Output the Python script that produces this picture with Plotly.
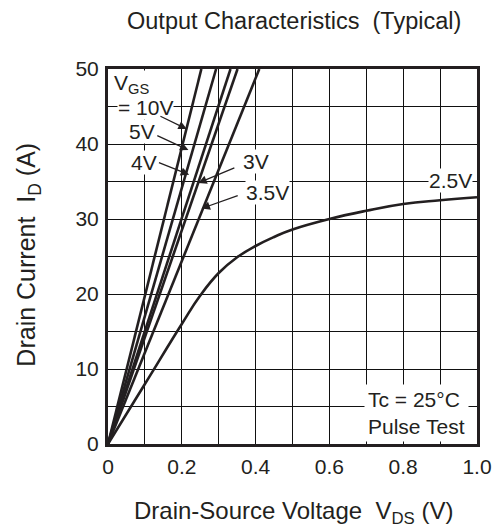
import plotly.graph_objects as go

# ---- data ----
# straight VGS curves: (0,0) -> (VDS at ID=50 A, 50)
vgs_names = ["10V", "5V", "4V", "3V", "3.5V"]
vds_at_50 = [0.253, 0.293, 0.332, 0.351, 0.41]
id_top = 50

# VGS = 2.5 V curve
vds_25 = [0, 0.1, 0.2, 0.25, 0.3, 0.35, 0.4, 0.45, 0.5, 0.6, 0.7, 0.8, 0.9, 1.0]
id_25 = [0, 8.0, 16.0, 19.8, 22.8, 24.9, 26.4, 27.6, 28.6, 30.0, 31.1, 32.0, 32.5, 32.9]

x_tickvals = [0, 0.1, 0.2, 0.3, 0.4, 0.5, 0.6, 0.7, 0.8, 0.9, 1.0]
x_ticktext = ["0", "", "0.2", "", "0.4", "", "0.6", "", "0.8", "", "1.0"]
y_tickvals = [0, 5, 10, 15, 20, 25, 30, 35, 40, 45, 50]
y_ticktext = ["0", "", "10", "", "20", "", "30", "", "40", "", "50"]

FONT = "Liberation Sans, Arial, Helvetica, sans-serif"
TXT = "#231f20"
LBL = 21
TTL = 24

fig = go.Figure()
for name, xe in zip(vgs_names, vds_at_50):
    fig.add_trace(go.Scatter(x=[0, xe], y=[0, id_top], mode="lines", name=name,
                             line=dict(color=TXT, width=2.6), showlegend=False))
fig.add_trace(go.Scatter(x=vds_25, y=id_25, mode="lines", name="2.5V",
                         line=dict(color=TXT, width=2.6, shape="spline", smoothing=1.3),
                         showlegend=False))

# labels (text, x, y)
labels = [
    ("V<sub>GS</sub>", 0.013, 48.0),
    ("= 10V", 0.024, 44.9),
    ("5V", 0.053, 41.7),
    ("4V", 0.059, 37.6),
    ("3V", 0.364, 37.7),
    ("3.5V", 0.37, 33.6),
    ("2.5V", 0.866, 35.1),
]
for t, x, y in labels:
    fig.add_annotation(x=x, y=y, text=t, showarrow=False, xanchor="left", yanchor="middle",
                       bgcolor="white", borderpad=0,
                       font=dict(family=FONT, size=LBL, color=TXT))

# arrows: (tail x, tail y, head x, head y)
arrows = [
    (0.138, 43.8, 0.2136, 42.0),
    (0.1295, 41.2, 0.218, 39.2),
    (0.134, 37.6, 0.22, 35.9),
    (0.3465, 36.9, 0.2447, 34.8),
    (0.3556, 33.2, 0.2535, 31.4),
]
for ax_, ay_, hx, hy in arrows:
    fig.add_annotation(x=hx, y=hy, ax=ax_, ay=ay_, axref="x", ayref="y", text="",
                       showarrow=True, arrowhead=2, arrowsize=1.3, arrowwidth=1.3,
                       arrowcolor=TXT)

fig.add_annotation(x=0.694, y=4.1, text="Tc = 25°C<br>Pulse Test", showarrow=False,
                   xanchor="left", yanchor="middle", bgcolor="white", borderpad=3,
                   align="left", font=dict(family=FONT, size=LBL, color=TXT))

# titles
fig.add_annotation(xref="paper", yref="paper", x=0.505, y=1, yshift=48,
                   text="Output Characteristics  (Typical)",
                   showarrow=False, xanchor="center", yanchor="middle",
                   font=dict(family=FONT, size=TTL - 0.5, color=TXT))
fig.add_annotation(xref="paper", yref="paper", x=0.502, y=0, yshift=-68,
                   text="Drain-Source Voltage  V<sub>DS</sub> (V)",
                   showarrow=False, xanchor="center", yanchor="middle",
                   font=dict(family=FONT, size=TTL, color=TXT))
fig.add_annotation(xref="paper", yref="paper", x=0, xshift=-80, y=0.505,
                   text="Drain Current  I<sub>D</sub> (A)", textangle=-90,
                   showarrow=False, xanchor="center", yanchor="middle",
                   font=dict(family=FONT, size=TTL + 1, color=TXT))

axis_common = dict(showgrid=True, gridcolor="#111111", gridwidth=1.2, zeroline=False,
                   showline=True, mirror=True, linecolor=TXT, linewidth=3,
                   ticks="outside", ticklen=2, tickcolor="rgba(0,0,0,0)",
                   tickfont=dict(family=FONT, size=LBL, color=TXT))
fig.update_xaxes(range=[0, 1.0], tickmode="array", tickvals=x_tickvals, ticktext=x_ticktext,
                 **axis_common)
fig.update_yaxes(range=[0, 50], tickmode="array", tickvals=y_tickvals, ticktext=y_ticktext,
                 **axis_common)

fig.update_layout(width=504, height=529, autosize=False,
                  margin=dict(l=108, r=21, t=69, b=85),
                  plot_bgcolor="white", paper_bgcolor="white")

fig.write_html("out.html")
